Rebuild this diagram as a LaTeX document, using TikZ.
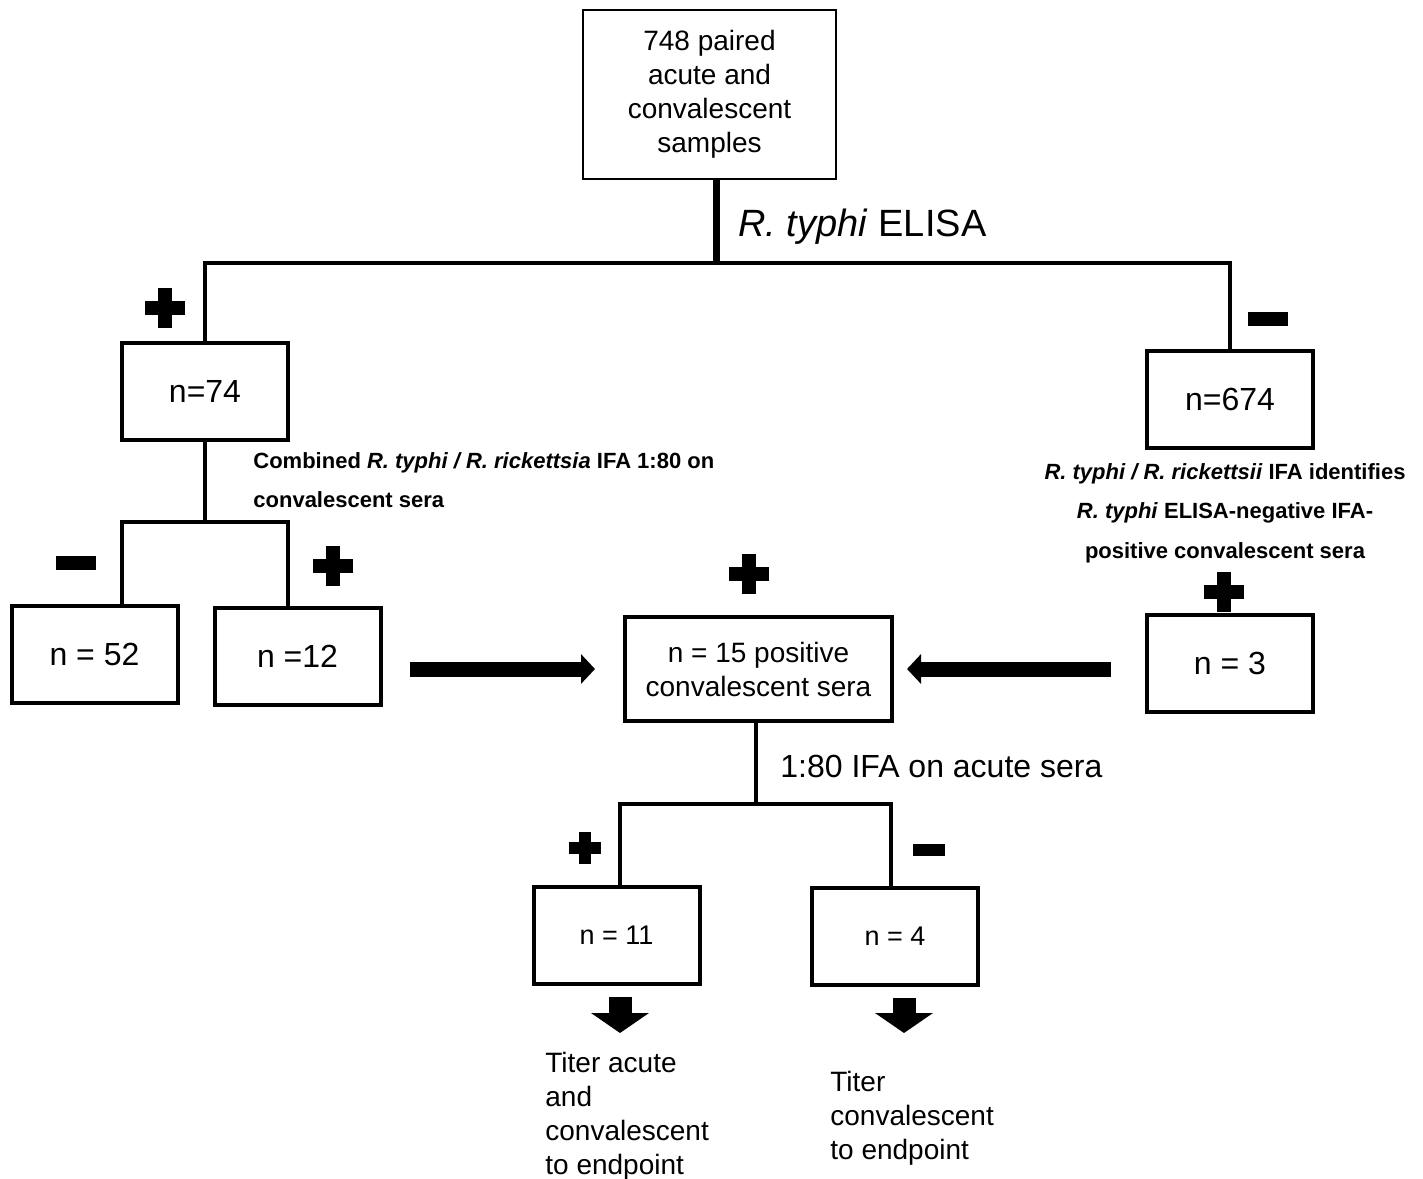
\documentclass[tikz,border=0pt]{standalone}
\usepackage{fontspec}
\setmainfont{Liberation Sans}
\usetikzlibrary{arrows.meta}

\begin{document}
\begin{tikzpicture}[x=0.5pt,y=-0.5pt,
  box/.style={draw, line width=2pt, inner sep=0pt, minimum width=83pt, minimum height=48.5pt, font=\fontsize{16}{19}\selectfont},
  smallbox/.style={box, font=\fontsize{13.5}{17}\selectfont},
  note/.style={inner sep=0pt, font=\fontsize{11}{19.75}\selectfont\bfseries},
  link/.style={line width=2pt},
  sidearrow/.style={line width=7.5pt, -{Triangle[length=7pt,width=14.5pt]}},
  downarrow/.style={line width=11.5pt, -{Triangle[length=10pt,width=28.5pt]}},
  plussign/.pic={\fill (-20,-7) rectangle (20,7); \fill (-7,-20) rectangle (7,20);},
  minussign/.pic={\fill (-20,-7) rectangle (20,7);}]
\useasboundingbox (0,0) rectangle (1423,1178);
\node[draw, line width=1pt, minimum width=126.5pt, minimum height=84.5pt, align=center, inner sep=0pt, font=\fontsize{14}{17}\selectfont] (top) at (709.5,94.5) {748 paired\\acute and\\convalescent\\samples};
\node[box] (n74) at (205,391) {n=74};
\node[box] (n674) at (1230,399) {n=674};
\node[box] (n52) at (94.5,654.5) {n = 52};
\node[box] (n12) at (297.5,656.5) {n =12};
\node[box, minimum width=133.5pt, minimum height=52pt, align=center, font=\fontsize{14}{17}\selectfont] (n15) at (758.5,669) {n = 15 positive\\convalescent sera};
\node[box] (n3) at (1230,663.5) {n = 3};
\node[smallbox] (n11) at (616.5,935) {n = 11};
\node[smallbox] (n4) at (895,936) {n = 4};

\node[anchor=west, inner sep=0pt, font=\fontsize{19}{23}\selectfont] (elisa) at (738,227) {\textit{R. typhi} ELISA};
\node[note, anchor=north west, align=left] (combined) at (253,452) {Combined \textit{R. typhi / R. rickettsia} IFA 1:80 on\\convalescent sera};
\node[note, anchor=north, align=center] (identifies) at (1225,463) {\textit{R. typhi / R. rickettsii} IFA identifies\\\textit{R. typhi} ELISA-negative IFA-\\positive convalescent sera};
\node[anchor=west, inner sep=0pt, font=\fontsize{16}{19}\selectfont] (acute) at (780,766) {1:80 IFA on acute sera};
\node[anchor=north west, align=left, inner sep=0pt, font=\fontsize{14}{17}\selectfont] (titer11) at (545,1052) {Titer acute\\and\\convalescent\\to endpoint};
\node[anchor=north west, align=left, inner sep=0pt, font=\fontsize{14}{17}\selectfont] (titer4) at (830,1071) {Titer\\convalescent\\to endpoint};

\coordinate (s1) at (716,263);
\coordinate (s2) at (205,522);
\coordinate (s2l) at (122,522);
\coordinate (s2r) at (288,522);
\coordinate (s3) at (756,804);
\coordinate (s3l) at (620,804);
\coordinate (s3r) at (891,804);
\coordinate (e11) at (620,1033);
\coordinate (e4) at (904,1033);

\draw[line width=3.5pt] (s1 |- top.south) -- (s1);
\draw[link] (n74.north) |- (s1) -| (n674.north);
\draw[link] (n74) -- (s2);
\draw[link] (s2l |- n52.north) -- (s2l) -- (s2r) -- (s2r |- n12.north);
\draw[link] (s3 |- n15.south) -- (s3);
\draw[link] (s3l |- n11.north) -- (s3l) -- (s3r) -- (s3r |- n4.north);
\draw[sidearrow, shorten <=13.5pt, shorten >=14pt] (n12.east |- n15.west) -- (n15.west);
\draw[sidearrow, shorten <=17pt, shorten >=6.5pt] (n3.west |- n15.east) -- (n15.east);
\draw[downarrow, shorten <=5.5pt] (e11 |- n11.south) -- (e11);
\draw[downarrow, shorten <=5.5pt] (e4 |- n4.south) -- (e4);

\pic at (165,308) {plussign};
\pic at (1268,319) {minussign};
\pic at (76,563) {minussign};
\pic at (333,566) {plussign};
\pic at (749,574) {plussign};
\pic at (1224,592) {plussign};
\pic[scale=0.8] at (585,848) {plussign};
\pic[scale=0.8] at (929,850) {minussign};
\end{tikzpicture}
\end{document}
